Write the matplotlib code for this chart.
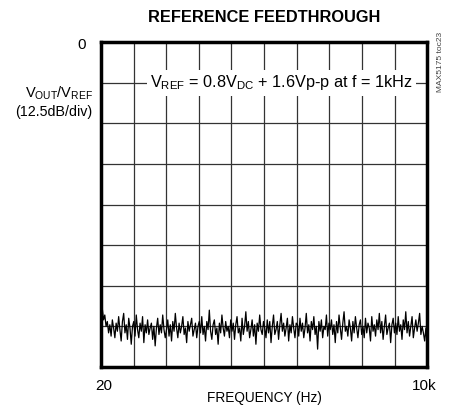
import numpy as np
import matplotlib
matplotlib.use("Agg")
import matplotlib.pyplot as plt

plt.rcParams['font.family'] = ['Liberation Sans', 'DejaVu Sans']
plt.rcParams['mathtext.fontset'] = 'custom'
plt.rcParams['mathtext.rm'] = 'Liberation Sans'
plt.rcParams['mathtext.it'] = 'Liberation Sans'

# sweep range and vertical scale
f_start = 20
f_stop = 10000
db_top = 0
db_bottom = -100
db_per_div = 12.5
n_xdiv = 10

# feedthrough trace (dB), one group per horizontal division
c1 = [-78.5, -82.0, -85.5, -84.0, -87.5, -86.0, -89.5, -87.0, -90.5, -85.5, -88.0, -91.0, -86.5,
      -89.0, -84.5, -88.5, -92.0, -86.0, -83.5, -89.5, -87.0, -91.5, -85.0, -88.0, -93.0, -87.5]
c2 = [-86.0, -90.5, -84.0, -88.5, -91.0, -86.5, -89.0, -84.5, -92.5, -87.0, -89.5, -85.5, -90.0,
      -88.0, -86.5, -91.5, -87.5, -93.5, -88.0, -85.0, -90.0, -87.0, -89.5, -84.0, -88.5, -91.0]
c3 = [-88.5, -85.5, -90.5, -87.0, -92.0, -86.0, -89.0, -83.5, -88.0, -91.0, -86.5, -89.5, -87.5,
      -84.5, -90.0, -88.0, -92.5, -86.0, -89.0, -87.0, -85.0, -90.5, -88.5, -86.5, -91.0, -87.5]
c4 = [-86.0, -89.5, -84.5, -90.0, -87.5, -92.0, -86.0, -88.5, -82.5, -89.0, -91.5, -87.0, -85.5,
      -90.0, -88.0, -93.0, -86.5, -89.5, -84.0, -88.0, -90.5, -86.0, -89.0, -87.5, -91.0, -85.5]
c5 = [-89.0, -86.5, -91.5, -87.0, -84.5, -89.5, -88.0, -92.0, -85.0, -90.0, -87.5, -83.0, -89.0,
      -86.0, -91.0, -88.5, -85.5, -90.5, -87.0, -93.0, -86.5, -89.0, -84.0, -88.5, -90.0, -86.0]
c6 = [-88.0, -91.0, -85.5, -89.5, -86.0, -92.5, -87.5, -84.0, -90.0, -88.5, -86.0, -91.5, -87.0,
      -83.5, -89.0, -86.5, -90.5, -88.0, -85.0, -92.0, -87.0, -89.5, -84.5, -88.0, -91.0, -86.5]
c7 = [-87.0, -90.5, -85.0, -89.0, -86.5, -91.0, -88.0, -83.5, -89.5, -87.0, -92.0, -86.0, -88.5,
      -84.5, -90.0, -87.5, -94.5, -86.0, -89.0, -85.5, -91.0, -87.5, -88.5, -84.0, -90.5, -86.5]
c8 = [-88.5, -85.5, -90.0, -87.0, -92.5, -86.0, -89.5, -84.0, -88.0, -91.5, -86.5, -83.0, -89.0,
      -87.5, -90.5, -85.5, -88.0, -92.0, -86.0, -89.5, -84.5, -88.0, -91.0, -87.0, -85.5, -90.0]
c9 = [-87.5, -91.0, -85.0, -89.5, -86.5, -88.0, -92.0, -84.5, -89.0, -87.0, -90.5, -85.5, -88.5,
      -83.5, -89.5, -86.0, -91.5, -87.5, -84.0, -90.0, -88.0, -86.5, -92.5, -87.0, -85.0, -89.5]
c10 = [-86.5, -90.0, -84.5, -89.0, -87.0, -91.5, -85.5, -88.5, -83.0, -89.5, -86.0, -90.5, -87.5,
       -84.5, -91.0, -88.0, -85.5, -89.0, -86.5, -83.5, -90.0, -87.5, -89.5, -92.0, -88.0, -93.5]
trace_db = c1 + c2 + c3 + c4 + c5 + c6 + c7 + c8 + c9 + c10
freq = np.linspace(f_start, f_stop, len(trace_db))

fig = plt.figure(figsize=(4.53, 4.08), dpi=100)
ax = fig.add_axes([0.223, 0.1005, 0.72, 0.7965])

ax.plot(freq, trace_db, color='black', lw=0.9)

ax.set_xlim(f_start, f_stop)
ax.set_ylim(db_bottom, db_top)
ax.set_xticks(np.linspace(f_start, f_stop, n_xdiv + 1))
ax.set_yticks(np.arange(db_bottom, db_top + 0.1, db_per_div))
ax.grid(True, color='#333333', lw=0.9)
ax.tick_params(length=0, labelbottom=False, labelleft=False)
for s in ax.spines.values():
    s.set_linewidth(2.5)

# labels
fig.text(0.583, 0.956, 'REFERENCE FEEDTHROUGH', ha='center', va='center',
         fontsize=11.8, fontweight='bold')
ax.text(-0.045, 0.99, '0', transform=ax.transAxes, ha='right', va='center', fontsize=11)
ax.text(0.008, -0.06, '20', transform=ax.transAxes, ha='center', va='center', fontsize=11)
ax.text(0.99, -0.06, '10k', transform=ax.transAxes, ha='center', va='center', fontsize=11)
ax.text(0.5, -0.095, 'FREQUENCY (Hz)', transform=ax.transAxes, ha='center', va='center', fontsize=9.8)
fig.text(0.205, 0.772, r'V$_{\mathrm{OUT}}$/V$_{\mathrm{REF}}$', ha='right', va='center', fontsize=10.5)
fig.text(0.205, 0.725, '(12.5dB/div)', ha='right', va='center', fontsize=10.3)
ax.text(0.955, 0.875, r'V$_{\mathrm{REF}}$ = 0.8V$_{\mathrm{DC}}$ + 1.6Vp-p at f = 1kHz',
        transform=ax.transAxes, ha='right', va='center', fontsize=11.7,
        bbox=dict(facecolor='white', edgecolor='none', pad=2.5))
fig.text(0.973, 0.848, 'MAX5175 toc23', rotation=90, ha='center', va='center',
         fontsize=6, color='#444444')

fig.savefig('out.png', dpi=100)
